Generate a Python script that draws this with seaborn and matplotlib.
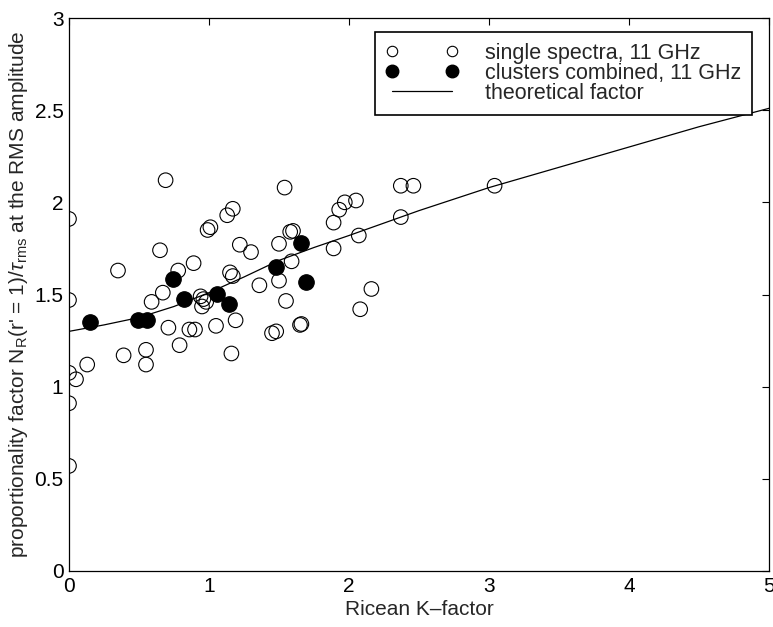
import matplotlib
matplotlib.use("Agg")
import matplotlib.pyplot as plt
from matplotlib.lines import Line2D
import seaborn as sns
import pandas as pd

# single spectra at 11 GHz: Ricean K-factor and proportionality factor
single_k = [0.00, 0.00, 0.00, 0.05, 0.00, 0.00, 0.13, 0.35, 0.39, 0.55,
            0.55, 0.59, 0.65, 0.67, 0.69, 0.71, 0.78, 0.79, 0.86, 0.89,
            0.90, 0.94, 0.96, 0.95, 0.98, 0.99, 1.01, 1.05, 1.13, 1.15,
            1.17, 1.17, 1.16, 1.19, 1.22, 1.30, 1.36, 1.45, 1.48, 1.50,
            1.50, 1.54, 1.55, 1.58, 1.60, 1.59, 1.65, 1.66, 1.89, 1.89,
            1.93, 1.97, 2.05, 2.07, 2.08, 2.16, 2.37, 2.37, 2.46, 3.04]
single_n = [1.91, 1.47, 1.075, 1.04, 0.91, 0.57, 1.12, 1.63, 1.17, 1.20,
            1.12, 1.46, 1.74, 1.51, 2.12, 1.32, 1.63, 1.225, 1.31, 1.67,
            1.31, 1.49, 1.475, 1.435, 1.46, 1.85, 1.865, 1.33, 1.93, 1.62,
            1.965, 1.60, 1.18, 1.36, 1.77, 1.73, 1.55, 1.29, 1.30, 1.775,
            1.575, 2.08, 1.465, 1.84, 1.845, 1.68, 1.335, 1.34, 1.89, 1.75,
            1.96, 2.00, 2.01, 1.82, 1.42, 1.53, 2.09, 1.92, 2.09, 2.09]

# clusters combined at 11 GHz
cluster_k = [0.15, 0.49, 0.56, 0.74, 0.82, 1.055, 1.14, 1.475, 1.66, 1.69]
cluster_n = [1.35, 1.36, 1.36, 1.585, 1.475, 1.505, 1.45, 1.65, 1.78, 1.57]

# theoretical factor sampled along K
theory_k = [0.0, 0.25, 0.5, 0.75, 1.0, 1.25, 1.5, 1.75, 2.0, 2.5, 3.0, 3.5, 4.0, 4.5, 5.0]
theory_n = [1.30, 1.335, 1.375, 1.435, 1.51, 1.595, 1.685, 1.755, 1.82, 1.955,
            2.08, 2.19, 2.30, 2.41, 2.51]

x_ticks = [0, 1, 2, 3, 4, 5]
y_ticks = [0, 0.5, 1, 1.5, 2, 2.5, 3]
y_tick_labels = ["0", "0.5", "1", "1.5", "2", "2.5", "3"]

sns.set_style("white")
plt.rcParams["font.family"] = ["Liberation Sans", "DejaVu Sans"]
plt.rcParams["mathtext.fontset"] = "custom"
plt.rcParams["mathtext.rm"] = "Liberation Sans"
plt.rcParams["mathtext.it"] = "Liberation Sans:italic"
plt.rcParams["mathtext.sf"] = "Liberation Sans"
fs = 15

single_df = pd.DataFrame({"K": single_k, "N": single_n})
cluster_df = pd.DataFrame({"K": cluster_k, "N": cluster_n})
theory_df = pd.DataFrame({"K": theory_k, "N": theory_n})

fig = plt.figure(figsize=(7.73, 6.27), dpi=100)
ax = fig.add_axes([69 / 773, 1 - 571 / 627, 700 / 773, 553 / 627])

sns.lineplot(data=theory_df, x="K", y="N", ax=ax, color="black", linewidth=0.9,
             estimator=None, sort=True, zorder=2)
sns.scatterplot(data=single_df, x="K", y="N", ax=ax, marker="o", s=110,
                facecolor="none", edgecolor="black", linewidth=0.8, zorder=3)
sns.scatterplot(data=cluster_df, x="K", y="N", ax=ax, marker="o", s=125,
                color="black", edgecolor="black", linewidth=0.8, zorder=4)

ax.set_xlim(0, 5)
ax.set_ylim(0, 3)
ax.set_xticks(x_ticks)
ax.set_yticks(y_ticks)
ax.set_yticklabels(y_tick_labels)
ax.tick_params(direction="in", length=5, width=0.8, top=True, right=True,
               labelsize=fs, pad=4, colors="black")
for sp in ax.spines.values():
    sp.set_linewidth(0.9)
    sp.set_color("black")

ax.set_xlabel("Ricean K\u2013factor", fontsize=fs, labelpad=3)
ax.set_ylabel(r"proportionality factor N$_\mathrm{R}$(r' = 1)/$\tau_\mathrm{rms}$ at the RMS amplitude",
              fontsize=fs, labelpad=3)

handles = [
    Line2D([], [], linestyle="none", marker="o", markersize=7.5,
           markerfacecolor="white", markeredgecolor="black", markeredgewidth=0.8),
    Line2D([], [], linestyle="none", marker="o", markersize=9,
           markerfacecolor="black", markeredgecolor="black"),
    Line2D([], [], color="black", linewidth=0.9),
]
labels = ["single spectra, 11 GHz", "clusters combined, 11 GHz", "theoretical factor"]
leg = ax.legend(handles, labels, loc="upper right", bbox_to_anchor=(0.976, 0.975),
                fontsize=15.5, numpoints=2, handlelength=3.4, handletextpad=1.2,
                labelspacing=-0.05, borderpad=0.52, borderaxespad=0,
                fancybox=False, frameon=True, edgecolor="black", framealpha=1)
leg.get_frame().set_linewidth(1.2)

fig.savefig("out.png", dpi=100)
